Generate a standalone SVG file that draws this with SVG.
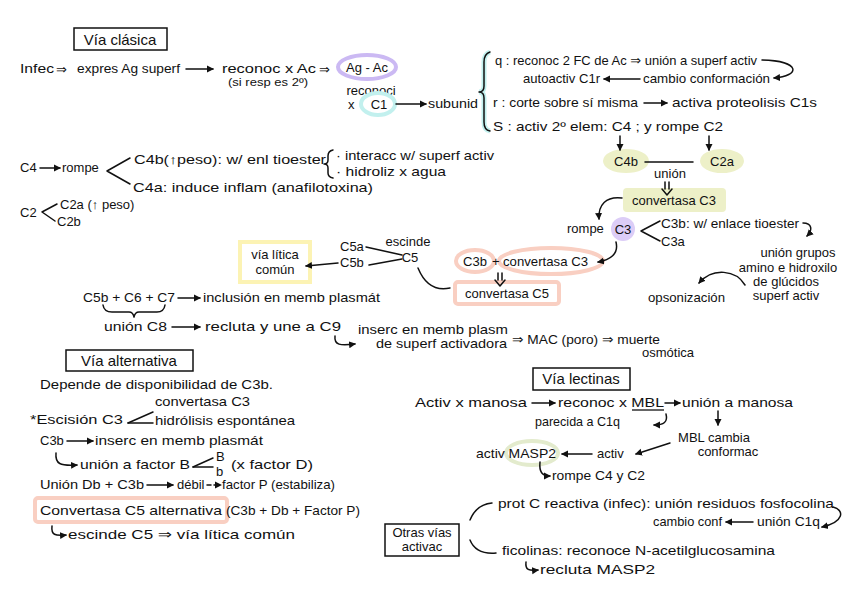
<svg xmlns="http://www.w3.org/2000/svg" width="848" height="599" viewBox="0 0 848 599">
<defs>
<marker id="ah" markerWidth="8" markerHeight="8" refX="6" refY="4" orient="auto" markerUnits="userSpaceOnUse"><path d="M0,0.5 L7,4 L0,7.5 Z" fill="#111"/></marker>
</defs>
<style>
.t{font-family:"Liberation Sans","DejaVu Sans",sans-serif;font-size:13px;fill:#111}
.s{font-size:11px}
.h{font-size:15px}
.m{text-anchor:middle}
.c{fill:none;stroke:#111;stroke-width:1.5;stroke-linecap:round;stroke-linejoin:round}
.a{marker-end:url(#ah)}
.box{fill:none;stroke:#111;stroke-width:1.5}
.lav{fill:none;stroke:#cbb9f3;stroke-width:4}
.cy{fill:none;stroke:#c2f0ee;stroke-width:4}
.yg{fill:#edf0c8;stroke:#edf0c8;stroke-width:2}
.sal{fill:none;stroke:#f9cfc2;stroke-width:4}
.yel{fill:none;stroke:#fcf3b4;stroke-width:4}
</style>
<rect width="848" height="599" fill="#fff"/>

<g id="via-clasica">
<rect class="box" x="74" y="28" width="93" height="22"/>
<text class="t h m" x="120" y="45">Vía clásica</text>
</g>

<g id="infec">
<text class="t" x="20" y="73" textLength="34" lengthAdjust="spacingAndGlyphs">Infec</text>
<text class="t" x="56" y="74" font-size="16">⇒</text>
<text class="t" x="77" y="73" textLength="103" lengthAdjust="spacingAndGlyphs">expres Ag superf</text>
<text class="t" x="222" y="73" textLength="94" lengthAdjust="spacingAndGlyphs">reconoc x Ac</text>
<text class="t s" x="228" y="86" textLength="80" lengthAdjust="spacingAndGlyphs">(si resp es 2º)</text>
<text class="t" x="319" y="74" font-size="16">⇒</text>
</g>

<g id="ag-ac">
<ellipse class="lav" cx="367" cy="67" rx="29" ry="12"/>
<text class="t m" x="367" y="72" font-size="14">Ag - Ac</text>
<text class="t m" x="371" y="95">reconoci</text>
<text class="t" x="348" y="109">x</text>
<ellipse class="cy" cx="378" cy="104" rx="17" ry="11"/>
<text class="t m" x="379" y="109" font-size="14">C1</text>
<text class="t" x="428" y="108" textLength="50" lengthAdjust="spacingAndGlyphs">subunid</text>
</g>

<g id="subunidades">
<path d="M490,52 Q484,54 484,62 L484,86 Q484,92 479,92 Q484,92 484,98 L484,122 Q484,130 490,131" fill="none" stroke="#c2f0ee" stroke-width="5"/>
<path d="M490,52 Q484,54 484,62 L484,86 Q484,92 479,92 Q484,92 484,98 L484,122 Q484,130 490,131" class="c"/>
<text class="t" x="495" y="65" textLength="262" lengthAdjust="spacingAndGlyphs">q : reconoc 2 FC de Ac ⇒ unión a superf activ</text>
<text class="t" x="523" y="83" textLength="77" lengthAdjust="spacingAndGlyphs">autoactiv C1r</text>
<text class="t" x="643" y="83" textLength="127" lengthAdjust="spacingAndGlyphs">cambio conformación</text>
<text class="t" x="493" y="107" textLength="145" lengthAdjust="spacingAndGlyphs">r : corte sobre sí misma</text>
<text class="t" x="672" y="107" textLength="145" lengthAdjust="spacingAndGlyphs">activa proteolisis C1s</text>
<text class="t" x="493" y="131" textLength="230" lengthAdjust="spacingAndGlyphs">S : activ 2º elem: C4 ; y rompe C2</text>
</g>

<g id="c4b-c2a">
<ellipse class="yg" cx="626" cy="161" rx="22" ry="11"/>
<text class="t m" x="626" y="166">C4b</text>
<ellipse class="yg" cx="722" cy="161" rx="21" ry="11"/>
<text class="t m" x="722" y="166">C2a</text>
<text class="t m" x="670" y="178">unión</text>
</g>

<g id="convertasa-c3">
<rect class="yg" x="624" y="189" width="101" height="22" rx="3"/>
<text class="t m" x="674" y="205">convertasa C3</text>
</g>

<g id="rompe-c3">
<text class="t" x="567" y="233">rompe</text>
<circle cx="623" cy="229" r="12" fill="#dccdf7"/>
<text class="t m" x="623" y="234">C3</text>
<text class="t" x="661" y="228" textLength="138" lengthAdjust="spacingAndGlyphs">C3b: w/ enlace tioester</text>
<text class="t" x="661" y="246">C3a</text>
</g>

<g id="opsonizacion">
<text class="t m" x="798" y="257">unión grupos</text>
<text class="t m" x="788" y="272">amino e hidroxilo</text>
<text class="t m" x="786" y="286">de glúcidos</text>
<text class="t m" x="786" y="300">superf activ</text>
<text class="t" x="648" y="302" textLength="77" lengthAdjust="spacingAndGlyphs">opsonización</text>
</g>

<g id="c3b-convertasa">
<ellipse class="sal" cx="475" cy="261" rx="19" ry="11"/>
<ellipse class="sal" cx="551" cy="261" rx="52" ry="13"/>
<text class="t m" x="475" y="266">C3b</text>
<text class="t" x="492" y="266">+</text>
<text class="t" x="503" y="266" textLength="85" lengthAdjust="spacingAndGlyphs">convertasa C3</text>
</g>

<g id="convertasa-c5">
<rect class="sal" x="455" y="282" width="104" height="22" rx="3"/>
<text class="t m" x="507" y="298">convertasa C5</text>
</g>

<g id="c5">
<text class="t m" x="408" y="246">escinde</text>
<text class="t m" x="410" y="262">C5</text>
<text class="t" x="340" y="251">C5a</text>
<text class="t" x="340" y="267">C5b</text>
</g>

<g id="via-litica">
<rect class="yel" x="240" y="242" width="70" height="40"/>
<text class="t m" x="275" y="259">vía lítica</text>
<text class="t m" x="275" y="274">común</text>
</g>

<g id="c4">
<text class="t" x="20" y="172">C4</text>
<text class="t" x="62" y="172">rompe</text>
<text class="t" x="134" y="164" textLength="192" lengthAdjust="spacingAndGlyphs">C4b(↑peso): w/ enl tioester</text>
<text class="t" x="336" y="160" textLength="158" lengthAdjust="spacingAndGlyphs">· interacc w/ superf activ</text>
<text class="t" x="336" y="176" textLength="110" lengthAdjust="spacingAndGlyphs">· hidroliz x agua</text>
<text class="t" x="133" y="192" textLength="240" lengthAdjust="spacingAndGlyphs">C4a: induce inflam (anafilotoxina)</text>
</g>

<g id="c2">
<text class="t" x="20" y="217" font-size="14">C2</text>
<text class="t" x="60" y="209">C2a (↑ peso)</text>
<text class="t" x="57" y="226">C2b</text>
</g>

<g id="mac">
<text class="t" x="83" y="302" textLength="92" lengthAdjust="spacingAndGlyphs" font-size="14">C5b + C6 + C7</text>
<text class="t" x="203" y="302" textLength="177" lengthAdjust="spacingAndGlyphs">inclusión en memb plasmát</text>
<text class="t" x="104" y="331" textLength="63" lengthAdjust="spacingAndGlyphs">unión C8</text>
<text class="t" x="205" y="331" textLength="136" lengthAdjust="spacingAndGlyphs">recluta y une a C9</text>
<text class="t" x="358" y="334" textLength="150" lengthAdjust="spacingAndGlyphs">inserc en memb plasm</text>
<text class="t" x="376" y="348" textLength="131" lengthAdjust="spacingAndGlyphs">de superf activadora</text>
<text class="t" x="512" y="344" textLength="148" lengthAdjust="spacingAndGlyphs">⇒ MAC (poro) ⇒ muerte</text>
<text class="t" x="642" y="357">osmótica</text>
</g>

<g id="via-alternativa">
<rect class="box" x="66" y="350" width="127" height="21"/>
<text class="t h m" x="129" y="366">Vía alternativa</text>
<text class="t" x="40" y="389" textLength="233" lengthAdjust="spacingAndGlyphs">Depende de disponibilidad de C3b.</text>
<text class="t" x="30" y="424" textLength="93" lengthAdjust="spacingAndGlyphs">*Escisión C3</text>
<text class="t" x="155" y="406" textLength="95" lengthAdjust="spacingAndGlyphs">convertasa C3</text>
<text class="t" x="155" y="425" textLength="140" lengthAdjust="spacingAndGlyphs">hidrólisis espontánea</text>
<text class="t" x="40" y="445">C3b</text>
<text class="t" x="95" y="445" textLength="168" lengthAdjust="spacingAndGlyphs">inserc en memb plasmát</text>
<text class="t" x="80" y="469" textLength="110" lengthAdjust="spacingAndGlyphs">unión a factor B</text>
<text class="t" x="216" y="461" font-size="8">B</text>
<text class="t" x="216" y="476" font-size="8">b</text>
<text class="t" x="231" y="469" textLength="82" lengthAdjust="spacingAndGlyphs">(x factor D)</text>
<text class="t" x="40" y="489" textLength="104" lengthAdjust="spacingAndGlyphs">Unión Db + C3b</text>
<text class="t" x="177" y="489">débil</text>
<text class="t" x="222" y="489" textLength="113" lengthAdjust="spacingAndGlyphs">factor P (estabiliza)</text>
</g>

<g id="convertasa-c5-alt">
<rect class="sal" x="35" y="498" width="192" height="24" rx="3"/>
<text class="t" x="40" y="515" textLength="182" lengthAdjust="spacingAndGlyphs">Convertasa C5 alternativa</text>
<text class="t" x="226" y="515" textLength="134" lengthAdjust="spacingAndGlyphs">(C3b + Db + Factor P)</text>
<text class="t" x="68" y="539" textLength="227" lengthAdjust="spacingAndGlyphs">escinde C5 ⇒ vía lítica común</text>
</g>

<g id="via-lectinas">
<rect class="box" x="533" y="368" width="97" height="22"/>
<text class="t h m" x="581" y="384">Vía lectinas</text>
<text class="t" x="415" y="407" textLength="112" lengthAdjust="spacingAndGlyphs">Activ x manosa</text>
<text class="t" x="558" y="407" textLength="106" lengthAdjust="spacingAndGlyphs">reconoc x MBL</text>
<line x1="632" y1="410" x2="664" y2="410" stroke="#111" stroke-width="1.3"/>
<text class="t" x="682" y="407" textLength="111" lengthAdjust="spacingAndGlyphs">unión a manosa</text>
<text class="t" x="535" y="426" textLength="85" lengthAdjust="spacingAndGlyphs">parecida a C1q</text>
<text class="t m" x="714" y="442">MBL cambia</text>
<text class="t m" x="728" y="456">conformac</text>
<text class="t" x="597" y="458">activ</text>
</g>

<g id="masp2">
<ellipse fill="none" stroke="#e3ebcd" stroke-width="4" cx="532" cy="453" rx="26" ry="12"/>
<text class="t" x="476" y="458" textLength="80" lengthAdjust="spacingAndGlyphs">activ MASP2</text>
<text class="t" x="552" y="480" textLength="93" lengthAdjust="spacingAndGlyphs">rompe C4 y C2</text>
</g>

<g id="otras-vias">
<rect class="box" x="385" y="524" width="74" height="32"/>
<text class="t m" x="422" y="537">Otras vías</text>
<text class="t m" x="422" y="551">activac</text>
</g>

<g id="prot-c">
<text class="t" x="498" y="508" textLength="336" lengthAdjust="spacingAndGlyphs">prot C reactiva (infec): unión residuos fosfocolina</text>
<text class="t" x="653" y="526" textLength="69" lengthAdjust="spacingAndGlyphs">cambio conf</text>
<text class="t" x="757" y="526" textLength="63" lengthAdjust="spacingAndGlyphs">unión C1q</text>
</g>

<g id="ficolinas">
<text class="t" x="502" y="555" textLength="273" lengthAdjust="spacingAndGlyphs">ficolinas: reconoce N-acetilglucosamina</text>
<text class="t" x="540" y="574" textLength="115" lengthAdjust="spacingAndGlyphs">recluta MASP2</text>
</g>

<g id="connectors">
<line class="c a" x1="186" y1="69" x2="213" y2="69"/>
<line class="c a" x1="396" y1="104" x2="426" y2="104"/>
<path class="c a" d="M762,60 C802,61 800,76 774,78"/>
<line class="c a" x1="640" y1="79" x2="604" y2="79"/>
<line class="c a" x1="644" y1="103" x2="667" y2="103"/>
<line class="c a" x1="620" y1="136" x2="620" y2="150"/>
<line class="c a" x1="709" y1="136" x2="709" y2="150"/>
<line class="c" x1="645" y1="162" x2="693" y2="162"/>
<path class="c" d="M665,182 L665,189 M669,182 L669,189 M662,189 L667,195 L672,189"/>
<path class="c a" d="M622,198 C606,196 598,205 599,219"/>
<polyline class="c" points="660,221 641,231 660,241"/>
<path class="c a" d="M803,223 C812,223 813,230 807,236"/>
<path class="c a" d="M745,285 C736,270 713,267 699,283"/>
<path class="c a" d="M616,242 C619,254 610,260 598,262"/>
<path class="c" d="M498,273 L498,280 M502,273 L502,280 M495,280 L500,286 L505,280"/>
<path class="c" d="M418,268 C425,285 436,291 450,288"/>
<line class="c" x1="402" y1="255" x2="366" y2="247"/>
<line class="c" x1="402" y1="259" x2="369" y2="265"/>
<line class="c a" x1="338" y1="263" x2="306" y2="266"/>
<line class="c a" x1="40" y1="168" x2="60" y2="168"/>
<polyline class="c" points="130,158 107,171 130,184"/>
<path class="c" d="M333,150 Q328,151 328,156 L328,160 Q328,164 324,164 Q328,164 328,168 L328,173 Q328,177 333,178"/>
<polyline class="c" points="57,204 42,212 55,221"/>
<line class="c a" x1="178" y1="298" x2="200" y2="298"/>
<path class="c" d="M103,305 Q104,312 112,312 L129,312 Q133,312 134,317 Q135,312 139,312 L157,312 Q164,312 165,305"/>
<line class="c a" x1="172" y1="327" x2="200" y2="327"/>
<path class="c a" d="M335,336 C334,345 340,346 355,344"/>
<line class="c" x1="128" y1="423" x2="153" y2="412"/>
<line class="c" x1="128" y1="423" x2="153" y2="423"/>
<line class="c a" x1="67" y1="441" x2="93" y2="441"/>
<path class="c a" d="M56,453 C55,464 60,466 77,465"/>
<line class="c" x1="193" y1="467" x2="213" y2="458"/>
<line class="c" x1="193" y1="467" x2="213" y2="467"/>
<line class="c a" x1="147" y1="485" x2="173" y2="485"/>
<line class="c a" x1="207" y1="485" x2="221" y2="485" stroke-dasharray="4,3"/>
<path class="c a" d="M52,526 C51,535 55,536 66,535"/>
<line class="c a" x1="532" y1="403" x2="555" y2="403"/>
<line class="c a" x1="665" y1="403" x2="680" y2="403"/>
<path class="c a" d="M666,414 C668,422 664,425 654,425"/>
<line class="c a" x1="718" y1="411" x2="718" y2="425"/>
<line class="c a" x1="670" y1="443" x2="636" y2="454"/>
<line class="c a" x1="592" y1="454" x2="562" y2="454"/>
<path class="c a" d="M540,462 C539,472 542,476 550,476"/>
<path class="c" d="M470,520 C474,510 482,504 492,503"/>
<path class="c" d="M470,540 C474,550 484,554 496,553"/>
<path class="c a" d="M833,507 C845,510 844,522 822,527"/>
<line class="c a" x1="753" y1="522" x2="726" y2="522"/>
<path class="c a" d="M526,562 C525,570 529,571 538,570"/>
</g>
</svg>
